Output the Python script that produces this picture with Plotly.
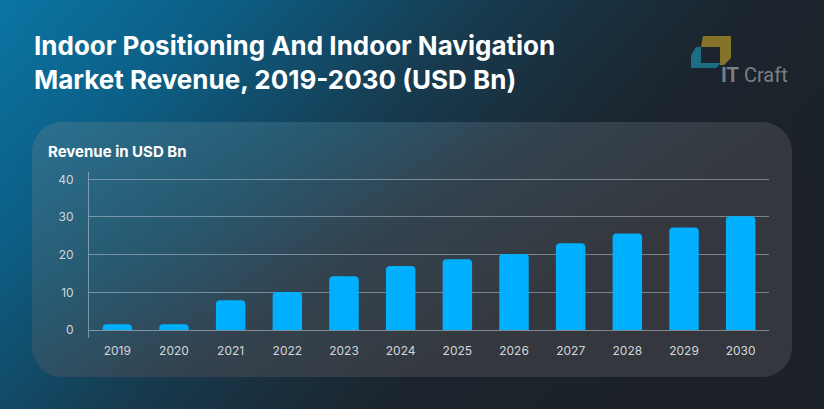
import base64
import plotly.graph_objects as go

# ---- data ----
years = ["2019", "2020", "2021", "2022", "2023", "2024", "2025", "2026", "2027", "2028", "2029", "2030"]
revenue = [1.5, 1.5, 7.9, 10.1, 14.3, 17.0, 18.8, 20.2, 23.0, 25.6, 27.2, 30.2]
y_ticks = [0, 10, 20, 30, 40]

title_text = "Indoor Positioning And Indoor Navigation<br>Market Revenue, 2019-2030 (USD Bn)"
axis_label = "Revenue in USD Bn"

# ---- layout geometry ----
W, H = 824, 409
L, R, T, B = 89, 55, 172, 71
PW, PH = W - L - R, H - T - B


def px(x):
    return (x - L) / PW


def py(y):
    return (H - B - y) / PH


svg = f'''<svg xmlns="http://www.w3.org/2000/svg" width="{W}" height="{H}" viewBox="0 0 {W} {H}">
<defs>
<linearGradient id="bg" x1="0" y1="0" x2="1" y2="0.45">
<stop offset="0" stop-color="#0b75a3"/>
<stop offset="0.22" stop-color="#0c5f86"/>
<stop offset="0.5" stop-color="#173a4e"/>
<stop offset="0.75" stop-color="#1b252e"/>
<stop offset="1" stop-color="#1c2128"/>
</linearGradient>
<linearGradient id="pn" x1="0" y1="0" x2="1" y2="0.5">
<stop offset="0" stop-color="#2a7190"/>
<stop offset="0.3" stop-color="#285a72"/>
<stop offset="0.55" stop-color="#33424e"/>
<stop offset="0.8" stop-color="#35393f"/>
<stop offset="1" stop-color="#34373d"/>
</linearGradient>
</defs>
<rect x="0" y="0" width="{W}" height="{H}" fill="url(#bg)"/>
<rect x="32" y="122" width="760" height="255" rx="30" ry="30" fill="url(#pn)"/>
<polygon points="703,36 731,36 731,58 724,65 720,65 720,47 701,47" fill="#85732a"/>
<polygon points="696,47 701,47 701,63 721,63 716,68 691,68 691,55" fill="#1c6c84"/>
</svg>'''
bg_src = "data:image/svg+xml;base64," + base64.b64encode(svg.encode()).decode()

fig = go.Figure()
fig.add_trace(go.Bar(
    x=years, y=revenue,
    marker=dict(color="#00b0ff", cornerradius=4, line=dict(width=0)),
    hoverinfo="x+y",
))

fig.update_layout(
    width=W, height=H,
    margin=dict(l=L, r=R, t=T, b=B, pad=0),
    paper_bgcolor="rgba(0,0,0,0)",
    plot_bgcolor="rgba(0,0,0,0)",
    bargap=0.48,
    showlegend=False,
    font=dict(family="Inter, sans-serif", color="#d3d7db", size=12),
    xaxis=dict(
        type="category", showgrid=False, showline=False, zeroline=False,
        ticks="", ticklabelstandoff=4,
        tickfont=dict(size=12, color="#d3d7db"),
    ),
    yaxis=dict(
        range=[-2.12, 41.94], tickvals=y_ticks, showgrid=True,
        gridcolor="rgba(190,205,215,0.5)", gridwidth=1,
        zeroline=True, zerolinecolor="rgba(190,205,215,0.55)", zerolinewidth=1,
        showline=True, linecolor="rgba(190,205,215,0.55)", linewidth=1,
        ticks="", ticklabelstandoff=12,
        tickfont=dict(size=12, color="#d3d7db"),
    ),
    images=[dict(
        source=bg_src, xref="paper", yref="paper",
        x=px(0), y=py(0), sizex=W / PW, sizey=H / PH,
        xanchor="left", yanchor="top", sizing="stretch", layer="below",
    )],
    annotations=[
        dict(text=f"<b>{title_text}</b>", xref="paper", yref="paper",
             x=px(32), y=py(28), xanchor="left", yanchor="top", align="left",
             showarrow=False, font=dict(family="Inter, sans-serif", size=26, color="#ffffff")),
        dict(text=f"<b>{axis_label}</b>", xref="paper", yref="paper",
             x=px(46), y=py(151), xanchor="left", yanchor="middle",
             showarrow=False, font=dict(family="Inter, sans-serif", size=15, color="#ffffff")),
        dict(text="<b>IT</b> Craft", xref="paper", yref="paper",
             x=px(719), y=py(75), xanchor="left", yanchor="middle",
             showarrow=False, font=dict(family="Roboto, sans-serif", size=20, color="#7b7f86")),
    ],
)

fig.write_html("out.html", config={"displayModeBar": False},
               post_script="document.body.style.margin='0px';")
